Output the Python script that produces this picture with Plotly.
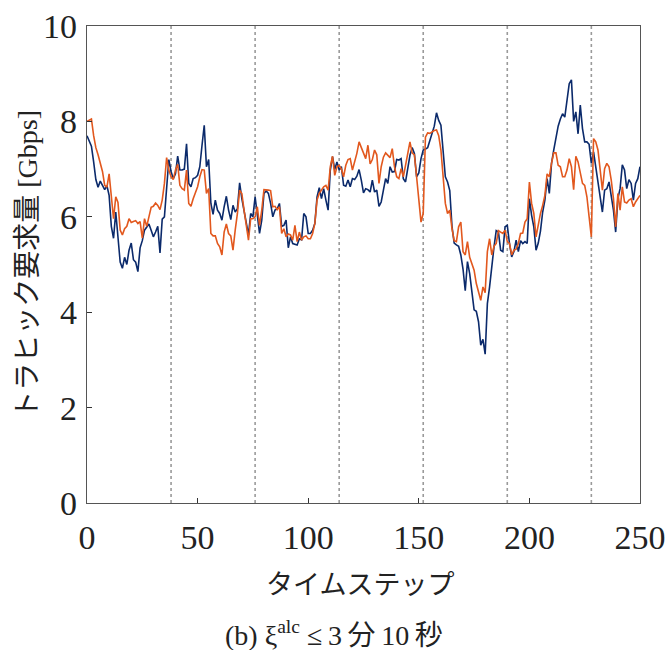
import plotly.graph_objects as go

# Time steps and traffic demand series [Gbps]
steps = list(range(0, 251))

demand_navy = [
    7.70, 7.60, 7.48, 7.15, 6.78, 6.62, 6.75, 6.66, 6.57, 6.65,
    6.45, 5.80, 5.55, 6.10, 5.60, 5.05, 4.92, 5.15, 5.00, 5.30,
    5.45, 5.10, 5.05, 4.85, 5.35, 5.50, 5.72, 5.80, 5.85, 5.72,
    5.58, 5.68, 5.80, 5.24, 5.95, 6.00, 6.70, 7.20, 6.95, 6.80,
    6.90, 7.27, 6.98, 6.98, 7.00, 7.53, 6.70, 6.63, 6.80, 6.82,
    6.87, 7.05, 7.50, 7.92, 7.05, 7.20, 6.28, 6.05, 6.35, 6.14,
    6.07, 5.93, 6.21, 6.43, 6.14, 5.94, 6.24, 6.10, 6.17, 6.71,
    6.38, 6.14, 5.86, 5.62, 6.07, 6.00, 6.42, 6.00, 5.65, 5.93,
    6.49, 6.54, 6.49, 6.28, 6.00, 6.14, 6.17, 6.28, 5.80, 5.82,
    5.93, 5.35, 5.58, 5.44, 5.43, 5.41, 5.54, 5.52, 6.07, 6.00,
    5.65, 5.65, 5.72, 5.86, 6.42, 6.61, 6.38, 6.59, 6.35, 6.14,
    6.98, 7.26, 6.99, 7.15, 6.98, 7.05, 6.66, 6.64, 6.77, 6.63,
    6.80, 6.78, 6.85, 6.99, 6.77, 6.50, 6.59, 6.57, 6.52, 6.77,
    6.52, 6.56, 6.22, 6.31, 6.56, 6.80, 6.70, 7.05, 6.94, 6.95,
    7.20, 7.19, 7.22, 6.80, 6.73, 7.01, 7.29, 7.45, 7.33, 6.84,
    6.92, 7.22, 7.40, 7.42, 7.45, 7.60, 7.78, 7.90, 8.18, 8.02,
    7.92, 7.40, 6.84, 6.73, 6.55, 5.80, 5.45, 5.41, 5.38, 5.20,
    4.90, 4.45, 5.06, 4.81, 4.40, 4.05, 4.02, 3.80, 3.31, 3.43,
    3.12, 4.18, 4.53, 5.02, 5.37, 5.71, 5.68, 5.30, 5.27, 5.79,
    5.82, 5.44, 5.16, 5.27, 5.51, 5.27, 5.50, 5.44, 5.48, 5.44,
    6.38, 6.03, 5.79, 5.30, 5.45, 5.70, 6.10, 6.35, 6.80, 6.49,
    7.12, 7.40, 7.65, 7.90, 8.05, 8.16, 8.09, 8.48, 8.79, 8.87,
    8.00, 8.20, 7.74, 8.34, 7.85, 7.57, 7.57, 7.52, 7.12, 7.36,
    7.05, 6.77, 6.49, 6.10, 6.56, 6.59, 6.73, 6.42, 6.14, 5.68,
    6.38, 6.59, 7.09, 6.98, 6.59, 6.78, 6.70, 6.35, 6.70, 6.80,
    7.05,
]

demand_orange = [
    8.00, 8.02, 8.05, 7.70, 7.45, 7.30, 7.10, 6.95, 6.66, 6.62,
    6.90, 6.45, 5.96, 6.42, 6.30, 5.72, 5.62, 5.75, 5.80, 5.96,
    5.88, 5.90, 5.92, 5.86, 5.90, 5.55, 5.96, 5.80, 6.00, 6.20,
    6.22, 6.29, 6.24, 6.15, 6.35, 6.70, 7.24, 6.98, 6.84, 6.78,
    6.98, 7.10, 6.66, 6.59, 6.56, 6.98, 6.28, 6.22, 6.38, 6.49,
    6.63, 6.84, 6.99, 6.98, 6.49, 6.59, 5.65, 5.60, 5.60, 5.44,
    5.37, 5.20, 5.68, 5.85, 5.65, 5.60, 5.30, 5.72, 6.07, 6.56,
    6.49, 6.14, 5.79, 5.51, 5.96, 5.96, 6.00, 6.21, 5.82, 6.14,
    6.57, 6.57, 6.56, 6.55, 6.21, 6.22, 6.15, 6.21, 5.65, 5.75,
    5.58, 5.64, 5.62, 5.51, 5.82, 5.48, 5.68, 5.51, 5.58, 5.60,
    5.54, 5.54, 5.65, 5.86, 6.35, 6.49, 6.56, 6.63, 6.66, 6.56,
    7.05, 7.27, 6.87, 7.05, 7.08, 7.00, 6.84, 7.08, 7.20, 7.22,
    6.98, 7.13, 7.33, 7.57, 7.46, 7.35, 7.22, 7.50, 7.11, 7.20,
    7.40, 7.30, 6.70, 7.05, 7.25, 7.34, 7.30, 7.24, 7.43, 7.05,
    6.84, 6.80, 7.01, 6.84, 7.08, 7.36, 7.57, 7.34, 7.30, 6.84,
    6.42, 5.89, 6.07, 7.67, 7.76, 7.75, 7.78, 7.81, 7.82, 7.70,
    7.40, 6.91, 6.28, 6.07, 6.14, 5.75, 5.50, 5.48, 5.79, 5.89,
    5.27, 5.20, 5.48, 5.15, 5.02, 4.88, 4.60, 4.41, 4.25, 4.53,
    4.41, 5.27, 5.54, 5.20, 5.38, 5.44, 5.71, 5.68, 5.65, 5.72,
    5.48, 5.44, 5.20, 5.30, 5.32, 5.44, 5.65, 5.66, 5.89, 5.96,
    6.73, 6.28, 6.07, 5.58, 5.86, 6.07, 6.24, 6.45, 6.90, 6.84,
    7.12, 7.34, 7.34, 7.08, 7.05, 6.84, 6.84, 6.98, 7.22, 7.05,
    6.57, 7.27, 7.15, 6.94, 6.70, 6.66, 6.42, 6.00, 5.58, 7.64,
    7.57, 7.40, 6.98, 6.56, 7.01, 7.12, 7.05, 6.77, 6.38, 5.79,
    6.49, 6.14, 6.63, 6.31, 6.29, 6.35, 6.38, 6.21, 6.31, 6.38,
    6.45,
]

# Boundaries between intervals (time steps)
interval_bounds = [38, 76, 114, 152, 190, 228]

x_ticks = [0, 50, 100, 150, 200, 250]
y_ticks = [0, 2, 4, 6, 8, 10]

NAVY = "#0b2a6b"
ORANGE = "#e2581e"
SERIF = "Liberation Serif, Times New Roman, serif"
CJK = "Liberation Serif, Noto Sans CJK JP, serif"
THIN = "\u2009"

fig = go.Figure()

fig.add_trace(go.Scatter(
    x=steps, y=demand_navy, mode="lines",
    line=dict(color=NAVY, width=1.6), showlegend=False,
))
fig.add_trace(go.Scatter(
    x=steps, y=demand_orange, mode="lines",
    line=dict(color=ORANGE, width=1.6), showlegend=False,
))

for b in interval_bounds:
    fig.add_shape(
        type="line", xref="x", yref="paper", x0=b, x1=b, y0=0, y1=1,
        line=dict(color="#9a9a9a", width=1.6, dash="dot"), layer="below",
    )

axis_common = dict(
    showgrid=False, zeroline=False, showline=True, mirror=True,
    linecolor="#555555", linewidth=1.2, automargin=False,
    ticks="inside", ticklen=5, tickwidth=1, tickcolor="#333333",
    tickfont=dict(family=SERIF, size=34, color="#222222"),
)

fig.update_xaxes(range=[0, 250], tickvals=x_ticks, ticklabelstandoff=4,
                 **axis_common)
fig.update_yaxes(range=[0, 10], tickvals=y_ticks, ticklabelstandoff=2,
                 **axis_common)

fig.add_annotation(
    text="トラヒック要求量 [Gbps]", textangle=-90,
    xref="paper", yref="paper", x=-0.108, y=0.5,
    xanchor="center", yanchor="middle", showarrow=False,
    font=dict(family=CJK, size=28, color="#222222"),
)
fig.add_annotation(
    text="タイムステップ",
    xref="paper", yref="paper", x=0.493, y=-0.172,
    xanchor="center", yanchor="middle", showarrow=False,
    font=dict(family=CJK, size=27, color="#222222"),
)
fig.add_annotation(
    text=f"(b) ξ<sup>alc</sup> ≤{THIN}3{THIN}分{THIN}10{THIN}秒",
    xref="paper", yref="paper", x=0.447, y=-0.274,
    xanchor="center", yanchor="middle", showarrow=False,
    font=dict(family=CJK, size=28, color="#222222"),
)

fig.update_layout(
    width=672, height=650,
    margin=dict(l=87, r=32, t=26, b=147),
    paper_bgcolor="white", plot_bgcolor="white",
)

fig.write_html("out.html")
